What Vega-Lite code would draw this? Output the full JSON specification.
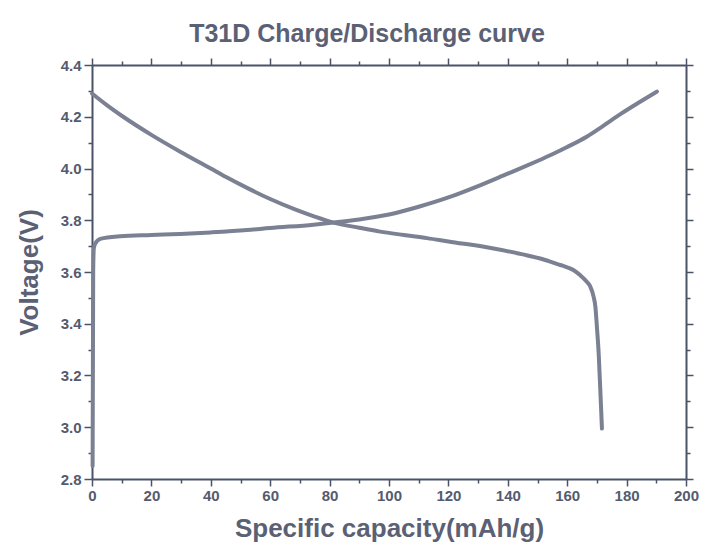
{
"$schema": "https://vega.github.io/schema/vega-lite/v6.json",
"width": 594,
"height": 414,
"autosize": "none",
"padding": {"left": 92, "top": 65, "right": 34, "bottom": 77},
"background": "white",
"title": {"text": "T31D Charge/Discharge curve", "font": "Liberation Sans", "fontSize": 25, "fontWeight": "bold", "color": "#5b6174", "offset": 10, "dx": -22, "anchor": "middle"},
"config": {
  "view": {"stroke": null},
  "axis": {"grid": false, "domainColor": "#4b5369", "domainWidth": 2, "tickColor": "#4b5369", "tickWidth": 1.5,
    "labelFont": "Liberation Sans", "labelFontSize": 15, "labelFontWeight": "bold", "labelColor": "#555b6e",
    "labelFlush": false, "labelOverlap": false,
    "titleFont": "Liberation Sans", "titleFontSize": 26, "titleFontWeight": "bold", "titleColor": "#5b6174"}
},
"data": {"values": [
{"series":"Discharge","i":0,"cap":0,"v":4.29},
{"series":"Discharge","i":1,"cap":5,"v":4.245},
{"series":"Discharge","i":2,"cap":10.5,"v":4.2},
{"series":"Discharge","i":3,"cap":20,"v":4.13},
{"series":"Discharge","i":4,"cap":30,"v":4.063},
{"series":"Discharge","i":5,"cap":40,"v":4.0},
{"series":"Discharge","i":6,"cap":45,"v":3.968},
{"series":"Discharge","i":7,"cap":52.2,"v":3.925},
{"series":"Discharge","i":8,"cap":60,"v":3.882},
{"series":"Discharge","i":9,"cap":69,"v":3.839},
{"series":"Discharge","i":10,"cap":75,"v":3.814},
{"series":"Discharge","i":11,"cap":81.3,"v":3.791},
{"series":"Discharge","i":12,"cap":90,"v":3.771},
{"series":"Discharge","i":13,"cap":97,"v":3.756},
{"series":"Discharge","i":14,"cap":105,"v":3.743},
{"series":"Discharge","i":15,"cap":112.8,"v":3.731},
{"series":"Discharge","i":16,"cap":120,"v":3.718},
{"series":"Discharge","i":17,"cap":135.2,"v":3.691},
{"series":"Discharge","i":18,"cap":145,"v":3.668},
{"series":"Discharge","i":19,"cap":150.9,"v":3.652},
{"series":"Discharge","i":20,"cap":154.3,"v":3.64},
{"series":"Discharge","i":21,"cap":157.7,"v":3.627},
{"series":"Discharge","i":22,"cap":160,"v":3.618},
{"series":"Discharge","i":23,"cap":162.2,"v":3.607},
{"series":"Discharge","i":24,"cap":164.3,"v":3.588},
{"series":"Discharge","i":25,"cap":166.6,"v":3.562},
{"series":"Discharge","i":26,"cap":167.8,"v":3.543},
{"series":"Discharge","i":27,"cap":168.9,"v":3.504},
{"series":"Discharge","i":28,"cap":169.5,"v":3.465},
{"series":"Discharge","i":29,"cap":170.0,"v":3.388},
{"series":"Discharge","i":30,"cap":170.6,"v":3.285},
{"series":"Discharge","i":31,"cap":171.1,"v":3.156},
{"series":"Discharge","i":32,"cap":171.7,"v":2.995},
{"series":"Charge","i":0,"cap":0.2,"v":2.85},
{"series":"Charge","i":1,"cap":0.4,"v":3.6},
{"series":"Charge","i":2,"cap":0.6,"v":3.69},
{"series":"Charge","i":3,"cap":1.1,"v":3.71},
{"series":"Charge","i":4,"cap":2.8,"v":3.728},
{"series":"Charge","i":5,"cap":9.5,"v":3.738},
{"series":"Charge","i":6,"cap":20,"v":3.743},
{"series":"Charge","i":7,"cap":29.7,"v":3.747},
{"series":"Charge","i":8,"cap":40,"v":3.753},
{"series":"Charge","i":9,"cap":52.2,"v":3.762},
{"series":"Charge","i":10,"cap":60,"v":3.77},
{"series":"Charge","i":11,"cap":74.6,"v":3.783},
{"series":"Charge","i":12,"cap":81.3,"v":3.791},
{"series":"Charge","i":13,"cap":90,"v":3.803},
{"series":"Charge","i":14,"cap":100,"v":3.822},
{"series":"Charge","i":15,"cap":110,"v":3.852},
{"series":"Charge","i":16,"cap":120,"v":3.888},
{"series":"Charge","i":17,"cap":130,"v":3.932},
{"series":"Charge","i":18,"cap":140,"v":3.98},
{"series":"Charge","i":19,"cap":145,"v":4.004},
{"series":"Charge","i":20,"cap":150,"v":4.029},
{"series":"Charge","i":21,"cap":155,"v":4.055},
{"series":"Charge","i":22,"cap":160,"v":4.083},
{"series":"Charge","i":23,"cap":166.7,"v":4.124},
{"series":"Charge","i":24,"cap":172,"v":4.164},
{"series":"Charge","i":25,"cap":177.9,"v":4.21},
{"series":"Charge","i":26,"cap":184,"v":4.254},
{"series":"Charge","i":27,"cap":190.2,"v":4.297}
]},
"layer": [
 {
  "transform": [{"filter": "datum.series === 'Discharge'"}],
  "mark": {"type": "line", "color": "#7b8192", "strokeWidth": 4, "strokeCap": "round", "strokeJoin": "round", "interpolate": "monotone"},
  "encoding": {
    "x": {"field": "cap", "type": "quantitative", "scale": {"domain": [0, 200], "nice": false, "zero": false},
      "axis": {"orient": "bottom", "values": [0,10,20,30,40,50,60,70,80,90,100,110,120,130,140,150,160,170,180,190,200],
        "labelExpr": "datum.value % 20 === 0 ? datum.label : ''",
        "tickSize": {"condition": {"test": "datum.value % 20 === 0", "value": 7}, "value": 4},
        "labelPadding": 2, "title": "Specific capacity(mAh/g)", "titlePadding": 12}},
    "y": {"field": "v", "type": "quantitative", "scale": {"domain": [2.8, 4.4], "nice": false, "zero": false},
      "axis": {"orient": "left", "values": [2.8,2.9,3.0,3.1,3.2,3.3,3.4,3.5,3.6,3.7,3.8,3.9,4.0,4.1,4.2,4.3,4.4],
        "labelExpr": "round(datum.value*10) % 2 === 0 ? format(datum.value, '.1f') : ''",
        "tickSize": {"condition": {"test": "round(datum.value*10) % 2 === 0", "value": 8}, "value": 4},
        "labelPadding": 3, "title": "Voltage(V)", "titlePadding": 18}},
    "order": {"field": "i", "type": "quantitative"}
  }
 },
 {
  "transform": [{"filter": "datum.series === 'Charge'"}],
  "mark": {"type": "line", "color": "#7b8192", "strokeWidth": 4, "strokeCap": "round", "strokeJoin": "round", "interpolate": "monotone"},
  "encoding": {
    "x": {"field": "cap", "type": "quantitative", "scale": {"domain": [0, 200], "nice": false, "zero": false},
      "axis": {"orient": "top", "values": [0,10,20,30,40,50,60,70,80,90,100,110,120,130,140,150,160,170,180,190,200],
        "labels": false, "title": null,
        "tickSize": {"condition": {"test": "datum.value % 20 === 0", "value": 7}, "value": 4}}},
    "y": {"field": "v", "type": "quantitative", "scale": {"domain": [2.8, 4.4], "nice": false, "zero": false},
      "axis": {"orient": "right", "values": [2.8,2.9,3.0,3.1,3.2,3.3,3.4,3.5,3.6,3.7,3.8,3.9,4.0,4.1,4.2,4.3,4.4],
        "labels": false, "title": null,
        "tickSize": {"condition": {"test": "round(datum.value*10) % 2 === 0", "value": 7}, "value": 4}}},
    "order": {"field": "i", "type": "quantitative"}
  }
 }
],
"resolve": {"axis": {"x": "independent", "y": "independent"}}
}
